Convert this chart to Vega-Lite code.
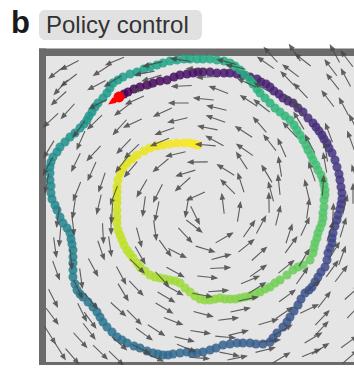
{
  "$schema": "https://vega.github.io/schema/vega-lite/v6.json",
  "width": 312,
  "height": 313,
  "autosize": {"type": "none"},
  "padding": {"left": 42, "top": 52, "right": 0, "bottom": 0},
  "background": "#ffffff",
  "config": {"view": {"stroke": null, "fill": null}},
  "datasets": {
    "traj": [
      {"step":0,"x":-80,"y":112},{"step":1,"x":-75,"y":115},{"step":2,"x":-71,"y":117},{"step":3,"x":-65,"y":120},{"step":4,"x":-59,"y":122},{"step":5,"x":-52,"y":124},{"step":6,"x":-46,"y":126},{"step":7,"x":-39,"y":128},{"step":8,"x":-32,"y":129},{"step":9,"x":-25,"y":132},
      {"step":10,"x":-19,"y":134},{"step":11,"x":-12,"y":135},{"step":12,"x":-6,"y":136},{"step":13,"x":-1,"y":137},{"step":14,"x":4,"y":137},{"step":15,"x":11,"y":137},{"step":16,"x":18,"y":136},{"step":17,"x":25,"y":136},{"step":18,"x":31,"y":136},{"step":19,"x":38,"y":135},
      {"step":20,"x":44,"y":134},{"step":21,"x":51,"y":132},{"step":22,"x":58,"y":130},{"step":23,"x":62,"y":127},{"step":24,"x":67,"y":125},{"step":25,"x":71,"y":122},{"step":26,"x":75,"y":118},{"step":27,"x":80,"y":115},{"step":28,"x":84,"y":111},{"step":29,"x":89,"y":108},
      {"step":30,"x":94,"y":106},{"step":31,"x":99,"y":101},{"step":32,"x":104,"y":97},{"step":33,"x":109,"y":91},{"step":34,"x":114,"y":86},{"step":35,"x":117,"y":82},{"step":36,"x":120,"y":78},{"step":37,"x":123,"y":74},{"step":38,"x":125,"y":70},{"step":39,"x":128,"y":66},
      {"step":40,"x":130,"y":61},{"step":41,"x":133,"y":56},{"step":42,"x":136,"y":49},{"step":43,"x":138,"y":42},{"step":44,"x":140,"y":35},{"step":45,"x":141,"y":29},{"step":46,"x":142,"y":22},{"step":47,"x":143,"y":16},{"step":48,"x":143,"y":10},{"step":49,"x":142,"y":5},
      {"step":50,"x":141,"y":0},{"step":51,"x":139,"y":-6},{"step":52,"x":138,"y":-11},{"step":53,"x":136,"y":-17},{"step":54,"x":134,"y":-24},{"step":55,"x":133,"y":-29},{"step":56,"x":133,"y":-34},{"step":57,"x":131,"y":-39},{"step":58,"x":129,"y":-44},{"step":59,"x":128,"y":-51},
      {"step":60,"x":126,"y":-58},{"step":61,"x":122,"y":-63},{"step":62,"x":119,"y":-68},{"step":63,"x":116,"y":-73},{"step":64,"x":113,"y":-78},{"step":65,"x":110,"y":-81},{"step":66,"x":106,"y":-84},{"step":67,"x":102,"y":-90},{"step":68,"x":99,"y":-96},{"step":69,"x":95,"y":-102},
      {"step":70,"x":91,"y":-108},{"step":71,"x":88,"y":-113},{"step":72,"x":84,"y":-118},{"step":73,"x":78,"y":-124},{"step":74,"x":74,"y":-129},{"step":75,"x":71,"y":-133},{"step":76,"x":64,"y":-135},{"step":77,"x":57,"y":-135},{"step":78,"x":51,"y":-134},{"step":79,"x":44,"y":-134},
      {"step":80,"x":38,"y":-134},{"step":81,"x":31,"y":-135},{"step":82,"x":24,"y":-136},{"step":83,"x":17,"y":-139},{"step":84,"x":11,"y":-141},{"step":85,"x":4,"y":-143},{"step":86,"x":-2,"y":-144},{"step":87,"x":-7,"y":-144},{"step":88,"x":-12,"y":-143},{"step":89,"x":-19,"y":-144},
      {"step":90,"x":-26,"y":-145},{"step":91,"x":-31,"y":-146},{"step":92,"x":-36,"y":-146},{"step":93,"x":-41,"y":-145},{"step":94,"x":-46,"y":-144},{"step":95,"x":-52,"y":-142},{"step":96,"x":-59,"y":-139},{"step":97,"x":-65,"y":-137},{"step":98,"x":-72,"y":-134},{"step":99,"x":-77,"y":-131},
      {"step":100,"x":-82,"y":-128},{"step":101,"x":-87,"y":-123},{"step":102,"x":-92,"y":-118},{"step":103,"x":-96,"y":-113},{"step":104,"x":-99,"y":-108},{"step":105,"x":-102,"y":-103},{"step":106,"x":-106,"y":-98},{"step":107,"x":-111,"y":-93},{"step":108,"x":-116,"y":-88},{"step":109,"x":-119,"y":-85},
      {"step":110,"x":-122,"y":-81},{"step":111,"x":-124,"y":-75},{"step":112,"x":-126,"y":-68},{"step":113,"x":-126,"y":-61},{"step":114,"x":-126,"y":-54},{"step":115,"x":-126,"y":-48},{"step":116,"x":-126,"y":-41},{"step":117,"x":-127,"y":-35},{"step":118,"x":-128,"y":-30},{"step":119,"x":-129,"y":-24},
      {"step":120,"x":-132,"y":-19},{"step":121,"x":-136,"y":-14},{"step":122,"x":-139,"y":-8},{"step":123,"x":-142,"y":-1},{"step":124,"x":-144,"y":4},{"step":125,"x":-147,"y":10},{"step":126,"x":-148,"y":16},{"step":127,"x":-148,"y":23},{"step":128,"x":-149,"y":29},{"step":129,"x":-149,"y":36},
      {"step":130,"x":-149,"y":42},{"step":131,"x":-148,"y":47},{"step":132,"x":-146,"y":52},{"step":133,"x":-142,"y":57},{"step":134,"x":-139,"y":62},{"step":135,"x":-134,"y":67},{"step":136,"x":-129,"y":72},{"step":137,"x":-124,"y":76},{"step":138,"x":-119,"y":81},{"step":139,"x":-115,"y":85},
      {"step":140,"x":-112,"y":89},{"step":141,"x":-110,"y":93},{"step":142,"x":-107,"y":97},{"step":143,"x":-104,"y":102},{"step":144,"x":-101,"y":106},{"step":145,"x":-96,"y":111},{"step":146,"x":-92,"y":116},{"step":147,"x":-89,"y":121},{"step":148,"x":-86,"y":126},{"step":149,"x":-81,"y":129},
      {"step":150,"x":-76,"y":132},{"step":151,"x":-69,"y":135},{"step":152,"x":-62,"y":137},{"step":153,"x":-55,"y":140},{"step":154,"x":-49,"y":142},{"step":155,"x":-42,"y":144},{"step":156,"x":-36,"y":146},{"step":157,"x":-29,"y":148},{"step":158,"x":-22,"y":149},{"step":159,"x":-15,"y":150},
      {"step":160,"x":-9,"y":150},{"step":161,"x":-2,"y":150},{"step":162,"x":4,"y":150},{"step":163,"x":11,"y":150},{"step":164,"x":18,"y":149},{"step":165,"x":25,"y":148},{"step":166,"x":31,"y":146},{"step":167,"x":36,"y":143},{"step":168,"x":41,"y":139},{"step":169,"x":46,"y":134},
      {"step":170,"x":51,"y":129},{"step":171,"x":54,"y":125},{"step":172,"x":58,"y":120},{"step":173,"x":61,"y":116},{"step":174,"x":66,"y":111},{"step":175,"x":71,"y":106},{"step":176,"x":76,"y":101},{"step":177,"x":81,"y":97},{"step":178,"x":86,"y":93},{"step":179,"x":91,"y":89},
      {"step":180,"x":95,"y":84},{"step":181,"x":98,"y":79},{"step":182,"x":101,"y":74},{"step":183,"x":104,"y":69},{"step":184,"x":107,"y":64},{"step":185,"x":109,"y":59},{"step":186,"x":112,"y":54},{"step":187,"x":114,"y":49},{"step":188,"x":117,"y":44},{"step":189,"x":119,"y":39},
      {"step":190,"x":122,"y":34},{"step":191,"x":124,"y":29},{"step":192,"x":125,"y":24},{"step":193,"x":126,"y":19},{"step":194,"x":126,"y":14},{"step":195,"x":125,"y":9},{"step":196,"x":125,"y":2},{"step":197,"x":124,"y":-4},{"step":198,"x":124,"y":-9},{"step":199,"x":123,"y":-14},
      {"step":200,"x":121,"y":-19},{"step":201,"x":119,"y":-24},{"step":202,"x":118,"y":-29},{"step":203,"x":116,"y":-34},{"step":204,"x":115,"y":-39},{"step":205,"x":114,"y":-44},{"step":206,"x":111,"y":-51},{"step":207,"x":104,"y":-56},{"step":208,"x":99,"y":-58},{"step":209,"x":94,"y":-61},
      {"step":210,"x":88,"y":-66},{"step":211,"x":81,"y":-71},{"step":212,"x":76,"y":-74},{"step":213,"x":71,"y":-78},{"step":214,"x":66,"y":-80},{"step":215,"x":61,"y":-83},{"step":216,"x":56,"y":-85},{"step":217,"x":51,"y":-87},{"step":218,"x":46,"y":-88},{"step":219,"x":41,"y":-89},
      {"step":220,"x":36,"y":-90},{"step":221,"x":31,"y":-90},{"step":222,"x":26,"y":-90},{"step":223,"x":21,"y":-89},{"step":224,"x":16,"y":-90},{"step":225,"x":11,"y":-91},{"step":226,"x":6,"y":-91},{"step":227,"x":1,"y":-90},{"step":228,"x":-4,"y":-87},{"step":229,"x":-9,"y":-83},
      {"step":230,"x":-14,"y":-79},{"step":231,"x":-19,"y":-74},{"step":232,"x":-24,"y":-72},{"step":233,"x":-29,"y":-71},{"step":234,"x":-34,"y":-70},{"step":235,"x":-39,"y":-69},{"step":236,"x":-44,"y":-68},{"step":237,"x":-49,"y":-66},{"step":238,"x":-54,"y":-62},{"step":239,"x":-59,"y":-58},
      {"step":240,"x":-62,"y":-54},{"step":241,"x":-66,"y":-49},{"step":242,"x":-69,"y":-45},{"step":243,"x":-72,"y":-41},{"step":244,"x":-75,"y":-36},{"step":245,"x":-77,"y":-31},{"step":246,"x":-79,"y":-26},{"step":247,"x":-81,"y":-21},{"step":248,"x":-82,"y":-14},{"step":249,"x":-82,"y":-8},
      {"step":250,"x":-82,"y":-1},{"step":251,"x":-82,"y":6},{"step":252,"x":-82,"y":11},{"step":253,"x":-82,"y":17},{"step":254,"x":-82,"y":22},{"step":255,"x":-81,"y":29},{"step":256,"x":-79,"y":36},{"step":257,"x":-76,"y":41},{"step":258,"x":-72,"y":46},{"step":259,"x":-67,"y":50},
      {"step":260,"x":-62,"y":54},{"step":261,"x":-55,"y":58},{"step":262,"x":-49,"y":61},{"step":263,"x":-42,"y":63},{"step":264,"x":-36,"y":64},{"step":265,"x":-29,"y":65},{"step":266,"x":-22,"y":66},{"step":267,"x":-15,"y":66},{"step":268,"x":-9,"y":66},{"step":269,"x":-5,"y":65},
      {"step":270,"x":-1,"y":64}
    ],
    "field": [
      {"x":-142,"y":137,"a":142},{"x":-129,"y":144,"a":152},{"x":-97,"y":139,"a":147},{"x":-84,"y":148,"a":157},{"x":-54,"y":136,"a":169},{"x":-46,"y":145,"a":166},{"x":-18,"y":149,"a":189},{"x":-2,"y":140,"a":182},{"x":28,"y":147,"a":195},{"x":37,"y":142,"a":193},{"x":67,"y":146,"a":215},{"x":92,"y":138,"a":217},{"x":104,"y":149,"a":218},{"x":132,"y":141,"a":233},{"x":148,"y":150,"a":233},
      {"x":-138,"y":122,"a":133},{"x":-130,"y":129,"a":142},{"x":-102,"y":124,"a":152},{"x":-86,"y":128,"a":148},{"x":-56,"y":120,"a":170},{"x":-47,"y":131,"a":163},{"x":-17,"y":123,"a":177},{"x":8,"y":132,"a":177},{"x":20,"y":119,"a":201},{"x":48,"y":126,"a":205},{"x":64,"y":121,"a":209},{"x":89,"y":130,"a":226},{"x":102,"y":118,"a":227},{"x":134,"y":127,"a":232},{"x":147,"y":131,"a":242},
      {"x":-140,"y":111,"a":138},{"x":-131,"y":98,"a":132},{"x":-101,"y":105,"a":152},{"x":-76,"y":100,"a":143},{"x":-64,"y":109,"a":156},{"x":-36,"y":97,"a":155},{"x":-20,"y":106,"a":180},{"x":5,"y":110,"a":186},{"x":18,"y":101,"a":193},{"x":50,"y":108,"a":213},{"x":63,"y":103,"a":218},{"x":93,"y":107,"a":226},{"x":101,"y":99,"a":237},{"x":129,"y":110,"a":233},{"x":145,"y":102,"a":242},
      {"x":-148,"y":89,"a":137},{"x":-120,"y":80,"a":126},{"x":-104,"y":87,"a":136},{"x":-79,"y":82,"a":132},{"x":-66,"y":86,"a":155},{"x":-34,"y":78,"a":160},{"x":-21,"y":89,"a":167},{"x":9,"y":81,"a":191},{"x":17,"y":90,"a":200},{"x":45,"y":77,"a":213},{"x":61,"y":84,"a":229},{"x":91,"y":79,"a":227},{"x":100,"y":88,"a":239},{"x":130,"y":76,"a":249},{"x":155,"y":85,"a":243},
      {"x":-150,"y":60,"a":121},{"x":-118,"y":69,"a":114},{"x":-105,"y":56,"a":133},{"x":-75,"y":63,"a":134},{"x":-67,"y":58,"a":136},{"x":-39,"y":67,"a":157},{"x":-23,"y":55,"a":167},{"x":7,"y":64,"a":185},{"x":16,"y":68,"a":209},{"x":46,"y":59,"a":215},{"x":71,"y":66,"a":232},{"x":83,"y":61,"a":246},{"x":111,"y":65,"a":242},{"x":127,"y":57,"a":261},{"x":152,"y":68,"a":250},
      {"x":-151,"y":43,"a":118},{"x":-123,"y":47,"a":116},{"x":-107,"y":38,"a":114},{"x":-77,"y":45,"a":128},{"x":-68,"y":40,"a":130},{"x":-38,"y":44,"a":140},{"x":-13,"y":36,"a":163},{"x":-1,"y":47,"a":179},{"x":27,"y":39,"a":212},{"x":43,"y":48,"a":237},{"x":68,"y":35,"a":239},{"x":81,"y":42,"a":261},{"x":113,"y":37,"a":251},{"x":126,"y":46,"a":260},{"x":156,"y":34,"a":252},
      {"x":-152,"y":26,"a":101},{"x":-122,"y":18,"a":112},{"x":-97,"y":27,"a":109},{"x":-85,"y":14,"a":111},{"x":-57,"y":21,"a":120},{"x":-41,"y":16,"a":117},{"x":-16,"y":25,"a":138},{"x":-3,"y":13,"a":156},{"x":29,"y":22,"a":225},{"x":42,"y":26,"a":252},{"x":72,"y":17,"a":255},{"x":80,"y":24,"a":264},{"x":108,"y":19,"a":257},{"x":124,"y":23,"a":274},{"x":154,"y":15,"a":270},
      {"x":-141,"y":-8,"a":98},{"x":-125,"y":1,"a":98},{"x":-100,"y":5,"a":103},{"x":-87,"y":-4,"a":93},{"x":-55,"y":3,"a":98},{"x":-42,"y":-2,"a":102},{"x":-12,"y":2,"a":100},{"x":-4,"y":-6,"a":64},{"x":24,"y":5,"a":263},{"x":40,"y":-3,"a":279},{"x":70,"y":6,"a":269},{"x":79,"y":-7,"a":284},{"x":109,"y":0,"a":278},{"x":134,"y":-5,"a":273},{"x":146,"y":4,"a":283},
      {"x":-139,"y":-27,"a":95},{"x":-126,"y":-16,"a":83},{"x":-96,"y":-24,"a":87},{"x":-88,"y":-15,"a":89},{"x":-60,"y":-28,"a":75},{"x":-44,"y":-21,"a":82},{"x":-14,"y":-26,"a":47},{"x":-5,"y":-17,"a":38},{"x":25,"y":-29,"a":330},{"x":50,"y":-20,"a":305},{"x":62,"y":-16,"a":298},{"x":90,"y":-25,"a":288},{"x":106,"y":-18,"a":295},{"x":131,"y":-23,"a":288},{"x":144,"y":-19,"a":287},
      {"x":-144,"y":-38,"a":82},{"x":-128,"y":-50,"a":85},{"x":-98,"y":-41,"a":71},{"x":-89,"y":-37,"a":82},{"x":-59,"y":-46,"a":60},{"x":-34,"y":-39,"a":54},{"x":-22,"y":-44,"a":27},{"x":6,"y":-40,"a":17},{"x":22,"y":-48,"a":345},{"x":47,"y":-37,"a":321},{"x":60,"y":-45,"a":318},{"x":92,"y":-36,"a":306},{"x":105,"y":-49,"a":301},{"x":135,"y":-42,"a":302},{"x":143,"y":-47,"a":290},
      {"x":-143,"y":-61,"a":70},{"x":-118,"y":-69,"a":82},{"x":-106,"y":-58,"a":62},{"x":-78,"y":-66,"a":62},{"x":-62,"y":-57,"a":44},{"x":-37,"y":-70,"a":48},{"x":-24,"y":-63,"a":29},{"x":8,"y":-68,"a":6},{"x":21,"y":-59,"a":357},{"x":51,"y":-71,"a":337},{"x":59,"y":-62,"a":325},{"x":87,"y":-58,"a":321},{"x":103,"y":-67,"a":305},{"x":133,"y":-60,"a":306},{"x":142,"y":-65,"a":307},
      {"x":-146,"y":-89,"a":63},{"x":-121,"y":-80,"a":65},{"x":-108,"y":-92,"a":50},{"x":-76,"y":-83,"a":59},{"x":-63,"y":-79,"a":46},{"x":-33,"y":-88,"a":31},{"x":-25,"y":-81,"a":29},{"x":3,"y":-86,"a":10},{"x":19,"y":-82,"a":356},{"x":49,"y":-90,"a":348},{"x":58,"y":-79,"a":328},{"x":88,"y":-87,"a":324},{"x":113,"y":-78,"a":323},{"x":125,"y":-91,"a":308},{"x":153,"y":-84,"a":318},
      {"x":-147,"y":-107,"a":53},{"x":-117,"y":-103,"a":64},{"x":-109,"y":-111,"a":54},{"x":-81,"y":-100,"a":42},{"x":-65,"y":-108,"a":45},{"x":-35,"y":-99,"a":31},{"x":-26,"y":-112,"a":21},{"x":4,"y":-105,"a":15},{"x":29,"y":-110,"a":353},{"x":41,"y":-101,"a":348},{"x":69,"y":-113,"a":344},{"x":85,"y":-104,"a":326},{"x":110,"y":-100,"a":334},{"x":123,"y":-109,"a":314},{"x":155,"y":-102,"a":314},
      {"x":-149,"y":-126,"a":58},{"x":-119,"y":-131,"a":48},{"x":-110,"y":-122,"a":53},{"x":-80,"y":-134,"a":42},{"x":-55,"y":-125,"a":36},{"x":-43,"y":-121,"a":33},{"x":-15,"y":-130,"a":14},{"x":1,"y":-123,"a":9},{"x":26,"y":-128,"a":5},{"x":39,"y":-124,"a":346},{"x":71,"y":-132,"a":353},{"x":84,"y":-121,"a":331},{"x":114,"y":-129,"a":329},{"x":122,"y":-120,"a":314},{"x":150,"y":-133,"a":324},
      {"x":-139,"y":-142,"a":58},{"x":-127,"y":-147,"a":49},{"x":-99,"y":-143,"a":44},{"x":-83,"y":-149,"a":44},{"x":-58,"y":-140,"a":27},{"x":-45,"y":-148,"a":25},{"x":-13,"y":-139,"a":22},{"x":0,"y":-149,"a":4},{"x":30,"y":-145,"a":11},{"x":38,"y":-149,"a":348},{"x":66,"y":-141,"a":346},{"x":82,"y":-149,"a":329},{"x":112,"y":-144,"a":338},{"x":121,"y":-140,"a":328},{"x":151,"y":-148,"a":319},
      {"x":72,"y":154,"a":228},{"x":96,"y":156,"a":236},{"x":136,"y":155,"a":242}
    ]
  },
  "layer": [
    {
      "data": {"values": [{}]},
      "mark": {"type": "rect", "fill": "#e5e5e5"},
      "encoding": {
        "x": {"datum": -153, "type": "quantitative", "scale": {"domain": [-157, 155], "nice": false, "zero": false}, "axis": null},
        "x2": {"datum": 155},
        "y": {"datum": 153, "type": "quantitative", "scale": {"domain": [-156, 157], "nice": false, "zero": false}, "axis": null},
        "y2": {"datum": -153}
      }
    },
    {
      "data": {"values": [{}]},
      "mark": {"type": "rect", "fill": "#6b6b6b"},
      "encoding": {
        "x": {"datum": -160, "type": "quantitative", "scale": {"domain": [-157, 155], "nice": false, "zero": false}, "axis": null},
        "x2": {"datum": -153},
        "y": {"datum": 160.5, "type": "quantitative", "scale": {"domain": [-156, 157], "nice": false, "zero": false}, "axis": null},
        "y2": {"datum": -156}
      }
    },
    {
      "data": {"values": [{}]},
      "mark": {"type": "rect", "fill": "#6b6b6b"},
      "encoding": {
        "x": {"datum": -160, "type": "quantitative", "scale": {"domain": [-157, 155], "nice": false, "zero": false}, "axis": null},
        "x2": {"datum": 155},
        "y": {"datum": 160.5, "type": "quantitative", "scale": {"domain": [-156, 157], "nice": false, "zero": false}, "axis": null},
        "y2": {"datum": 153}
      }
    },
    {
      "data": {"values": [{}]},
      "mark": {"type": "rect", "fill": "#6b6b6b"},
      "encoding": {
        "x": {"datum": -160, "type": "quantitative", "scale": {"domain": [-157, 155], "nice": false, "zero": false}, "axis": null},
        "x2": {"datum": 155},
        "y": {"datum": -153, "type": "quantitative", "scale": {"domain": [-156, 157], "nice": false, "zero": false}, "axis": null},
        "y2": {"datum": -156}
      }
    },
    {
      "data": {"name": "traj"},
      "mark": {"type": "circle", "size": 82, "opacity": 0.85},
      "encoding": {
        "x": {"field": "x", "type": "quantitative", "scale": {"domain": [-157, 155], "nice": false, "zero": false}, "axis": null},
        "y": {"field": "y", "type": "quantitative", "scale": {"domain": [-156, 157], "nice": false, "zero": false}, "axis": null},
        "color": {"field": "step", "type": "quantitative", "scale": {"scheme": "viridis"}, "legend": null},
        "order": {"field": "step", "type": "quantitative"}
      }
    },
    {
      "data": {"name": "field"},
      "mark": {"type": "point", "shape": "M-1,0L0.55,0M1,0L0.5,-0.2L0.5,0.2Z", "size": 380, "filled": true, "fill": "#474747", "stroke": "#474747", "strokeWidth": 1.1, "opacity": 0.85},
      "encoding": {
        "x": {"field": "x", "type": "quantitative", "scale": {"domain": [-157, 155], "nice": false, "zero": false}, "axis": null},
        "y": {"field": "y", "type": "quantitative", "scale": {"domain": [-156, 157], "nice": false, "zero": false}, "axis": null},
        "angle": {"field": "a", "type": "quantitative", "scale": null}
      }
    },
    {
      "data": {"name": "traj"},
      "transform": [{"filter": "datum.step == 0"}],
      "mark": {"type": "point", "shape": "M0,0L0.45,-0.24L1,0L0.45,0.24Z", "size": 700, "filled": true, "color": "#ff0000", "opacity": 1, "angle": 145},
      "encoding": {
        "x": {"field": "x", "type": "quantitative", "scale": {"domain": [-157, 155], "nice": false, "zero": false}, "axis": null},
        "y": {"field": "y", "type": "quantitative", "scale": {"domain": [-156, 157], "nice": false, "zero": false}, "axis": null}
      }
    },
    {
      "data": {"name": "traj"},
      "transform": [{"filter": "datum.step == 0"}],
      "mark": {"type": "circle", "size": 120, "color": "#ff0000", "opacity": 1},
      "encoding": {
        "x": {"field": "x", "type": "quantitative", "scale": {"domain": [-157, 155], "nice": false, "zero": false}, "axis": null},
        "y": {"field": "y", "type": "quantitative", "scale": {"domain": [-156, 157], "nice": false, "zero": false}, "axis": null}
      }
    },
    {
      "data": {"values": [{}]},
      "mark": {"type": "rect", "cornerRadius": 6, "fill": "#e1e1e1"},
      "encoding": {
        "x": {"datum": -160, "type": "quantitative", "scale": {"domain": [-157, 155], "nice": false, "zero": false}, "axis": null},
        "x2": {"datum": 3},
        "y": {"datum": 199, "type": "quantitative", "scale": {"domain": [-156, 157], "nice": false, "zero": false}, "axis": null},
        "y2": {"datum": 169}
      }
    },
    {
      "data": {"values": [{}]},
      "mark": {"type": "text", "text": "Policy control", "font": "Liberation Sans", "fontSize": 24, "color": "#333333", "align": "left", "baseline": "alphabetic"},
      "encoding": {
        "x": {"datum": -153, "type": "quantitative", "scale": {"domain": [-157, 155], "nice": false, "zero": false}, "axis": null},
        "y": {"datum": 176, "type": "quantitative", "scale": {"domain": [-156, 157], "nice": false, "zero": false}, "axis": null}
      }
    },
    {
      "data": {"values": [{}]},
      "mark": {"type": "text", "text": "b", "font": "Liberation Sans", "fontSize": 31, "fontWeight": "bold", "color": "#1a1a1a", "align": "left", "baseline": "alphabetic"},
      "encoding": {
        "x": {"datum": -188, "type": "quantitative", "scale": {"domain": [-157, 155], "nice": false, "zero": false}, "axis": null},
        "y": {"datum": 176, "type": "quantitative", "scale": {"domain": [-156, 157], "nice": false, "zero": false}, "axis": null}
      }
    }
  ]
}
